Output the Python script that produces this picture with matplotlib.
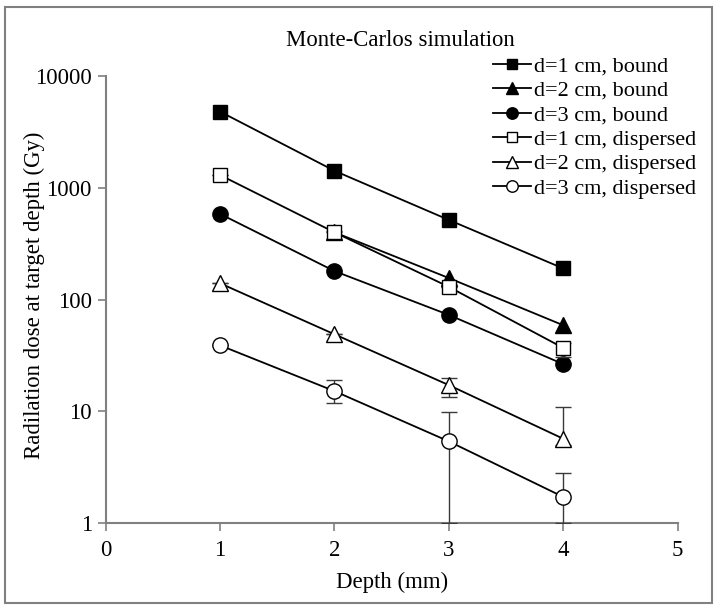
import matplotlib
matplotlib.use("Agg")
import matplotlib.pyplot as plt
from matplotlib.patches import Rectangle
from matplotlib.lines import Line2D
import numpy as np

plt.rcParams['font.family'] = ['Liberation Serif', 'DejaVu Serif']

depth = [1, 2, 3, 4]
labels = ["d=1 cm, bound", "d=2 cm, bound", "d=3 cm, bound",
          "d=1 cm, dispersed", "d=2 cm, dispersed", "d=3 cm, dispersed"]
xtick_labels = ['0', '1', '2', '3', '4', '5']
ytick_labels = ['1', '10', '100', '1000', '10000']

d1_bound = [4800, 1420, 516, 190]
d2_bound_x = [2, 3, 4]
d2_bound = [400, 156, 59]
d3_bound = [584, 180, 73, 26.5]
d1_disp = [1300, 400, 130, 37]
d2_disp = [140, 49, 17.2, 5.7]
d3_disp = [39, 15.2, 5.4, 1.72]

# error bar bounds (lower, upper)
d1_disp_lo = [1300, 400, 130, 31]
d1_disp_hi = [1300, 410, 130, 41]
d2_disp_lo = [140, 49, 13.4, 5.0]
d2_disp_hi = [140, 49, 20, 11]
d3_disp_lo = [39, 11.8, 1.0, 1.0]
d3_disp_hi = [39, 19, 9.9, 2.82]

FS = 16.4

fig = plt.figure(figsize=(7.18, 6.08), dpi=100)
fig.patches.append(Rectangle((5/718, 5/608), 707/718, 596/608, transform=fig.transFigure,
                             fill=False, edgecolor='#808080', linewidth=1.5))
ax = fig.add_axes([105.7/718, 1-523.3/608, 572/718, (523.3-76)/608])

lw = 1.3
ms = 11
common = dict(color='black', linewidth=lw, markeredgewidth=1.0, markeredgecolor='black')

ax.plot(depth, d1_bound, marker='s', markersize=ms*0.95, markerfacecolor='black', label=labels[0], zorder=3, **common)
ax.plot(d2_bound_x, d2_bound, marker='^', markersize=ms, markerfacecolor='black', label=labels[1], zorder=3, **common)
ax.plot(depth, d3_bound, marker='o', markersize=ms, markerfacecolor='black', label=labels[2], zorder=3, **common)

def err(vals, lo, hi):
    v = np.array(vals); return [v - np.array(lo), np.array(hi) - v]

ekw = dict(ecolor='#3a3a3a', elinewidth=1.0, capsize=6, capthick=1.0)
ax.errorbar(depth, d1_disp, yerr=err(d1_disp, d1_disp_lo, d1_disp_hi), marker='s', markersize=ms*0.95,
            markerfacecolor='white', label=labels[3], zorder=4, **common, **ekw)
ax.errorbar(depth, d2_disp, yerr=err(d2_disp, d2_disp_lo, d2_disp_hi), marker='^', markersize=ms,
            markerfacecolor='white', label=labels[4], zorder=4, **common, **ekw)
ax.errorbar(depth, d3_disp, yerr=err(d3_disp, d3_disp_lo, d3_disp_hi), marker='o', markersize=ms,
            markerfacecolor='white', label=labels[5], zorder=4, **common, **ekw)

ax.set_yscale('log')
ax.set_xlim(0, 5)
ax.set_ylim(1, 10000)
ax.set_xticks([0, 1, 2, 3, 4, 5])
ax.set_xticklabels(xtick_labels)
ax.set_yticks([1, 10, 100, 1000, 10000])
ax.set_yticklabels(ytick_labels)
ax.yaxis.set_minor_locator(matplotlib.ticker.NullLocator())
for s in ['top', 'right']:
    ax.spines[s].set_visible(False)
for s in ['left', 'bottom']:
    ax.spines[s].set_color('#808080')
    ax.spines[s].set_linewidth(1.5)
ax.tick_params(axis='both', direction='out', length=6, width=1.2, color='#808080',
               labelsize=FS)
ax.tick_params(axis='x', pad=6)
ax.tick_params(axis='y', pad=4)
ax.set_xlabel('Depth (mm)', fontsize=FS)
ax.xaxis.set_label_coords(0.5, -(572 - 523.3) / (523.3 - 76), transform=ax.transAxes)
ax.set_ylabel('Radilation dose at target depth (Gy)', fontsize=FS, va='center')
ax.yaxis.set_label_coords((34 - 105.7) / 572, 0.5 + (300 - 296) / (523.3 - 76))

fig.text(400/718, 1-41/608, 'Monte-Carlos simulation', ha='center', va='center', fontsize=FS)

handles, labs = ax.get_legend_handles_labels()
leg_handles = []
for h in handles:
    if not isinstance(h, Line2D):
        h = h.lines[0]
    leg_handles.append(h)
leg = fig.legend(leg_handles, labs, loc='upper left', bbox_to_anchor=(493/718, 1-56/608),
                 frameon=False, fontsize=16, handlelength=1.7, handletextpad=0.15,
                 labelspacing=0.175, markerscale=0.75, borderaxespad=0, borderpad=0)

fig.savefig('out.png', dpi=100)
